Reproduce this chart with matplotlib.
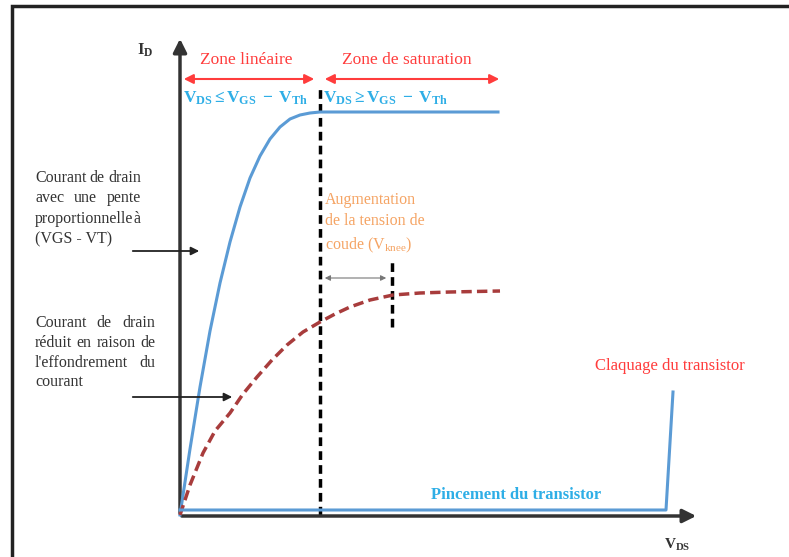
import matplotlib
matplotlib.use("Agg")
import matplotlib.pyplot as plt
from matplotlib.patches import Rectangle

plt.rcParams['font.family'] = ['Liberation Serif', 'DejaVu Serif']
plt.rcParams['mathtext.fontset'] = 'custom'
plt.rcParams['mathtext.rm'] = 'Liberation Serif'
plt.rcParams['mathtext.it'] = 'Liberation Serif:italic'
plt.rcParams['mathtext.bf'] = 'Liberation Serif:bold'

# curves (VDS, ID) in arbitrary units
vds_lin = [0, 10, 20, 30, 40, 50, 60, 70, 80, 90, 100, 110, 120, 130, 140, 160, 318]
id_lin = [0, 66, 128, 184, 232, 273, 308, 337, 359, 376, 388, 396, 400, 402, 403, 403, 403]

vds_red = [0, 10, 23, 35, 50, 63, 77, 92, 107, 123, 140, 155, 170, 190, 213, 240, 270, 320]
id_red = [0, 30, 62, 84, 102, 121, 138, 155, 170, 183, 193, 201, 208, 215, 220, 222, 223, 224]

vds_pinch = [0, 486, 493]
id_pinch = [5, 5, 123]

v_sat = 140      # limit linear / saturation
v_knee = 212     # knee voltage of collapsed curve

note1 = ['Courant de drain', 'avec une pente', 'proportionnelle à', '(VGS - VT)']
note2 = ['Courant de drain', 'réduit en raison de', "l'effondrement du", 'courant']

blue = '#5b9bd5'
light_blue = '#2eaee6'
red = '#ff3c3c'
brown = '#a83c3c'
orange = '#f5a464'
dark = '#333333'

fig = plt.figure(figsize=(7.89, 5.57), dpi=100)
ax = fig.add_axes([0, 0, 1, 1])
ax.set_xlim(-180, 609)
ax.set_ylim(-42, 515)
ax.axis('off')
renderer = fig.canvas.get_renderer()


def justified(lines, x0, y0, width, step, **kw):
    # justified paragraph, last line left aligned
    for i, line in enumerate(lines):
        y = y0 - i * step
        words = line.split(' ')
        if i == len(lines) - 1 or len(words) == 1:
            ax.text(x0, y, line, ha='left', va='center', **kw)
            continue
        txts = [ax.text(0, y, w, ha='left', va='center', **kw) for w in words]
        widths = [t.get_window_extent(renderer).width for t in txts]
        gap = (width - sum(widths)) / (len(words) - 1)
        x = x0
        for t, w in zip(txts, widths):
            t.set_x(x)
            x += w + gap


# outer frame
ax.add_patch(Rectangle((-168, -120), 900, 629, fill=False, lw=2.5, ec='#222222'))

# axes with arrows
ax.annotate('', xy=(0, 479), xytext=(0, -1),
            arrowprops=dict(arrowstyle='-|>', lw=2.5, color=dark, mutation_scale=20))
ax.annotate('', xy=(519, -1), xytext=(-1, -1),
            arrowprops=dict(arrowstyle='-|>', lw=2.5, color=dark, mutation_scale=20))
ax.text(-35, 465, r'$\mathbf{I_D}$', fontsize=12, color=dark, ha='center', va='center')
ax.text(497, -30, r'$\mathbf{V_{DS}}$', fontsize=11, color=dark, ha='center', va='center')

# curves
ax.plot(vds_lin, id_lin, color=blue, lw=2.2, zorder=3)
ax.plot(vds_red, id_red, color=brown, lw=2.5, ls=(0, (3, 1.5)), zorder=3)
ax.plot(vds_pinch, id_pinch, color=blue, lw=2.2, zorder=3)

# dashed limits
ax.plot([v_sat, v_sat], [0, 430], color='black', lw=2.5, ls=(0, (2.5, 1.5)), zorder=2)
ax.plot([v_knee, v_knee], [188, 256], color='black', lw=2.5, ls=(0, (2.5, 1.5)), zorder=2)
ax.annotate('', xy=(v_sat + 2, 237), xytext=(v_knee - 3, 237),
            arrowprops=dict(arrowstyle='<|-|>', lw=0.8, color='#777777', mutation_scale=8))

# zones
ax.annotate('', xy=(1, 436), xytext=(v_sat - 3, 436),
            arrowprops=dict(arrowstyle='<|-|>', lw=1.5, color=red, mutation_scale=14))
ax.annotate('', xy=(v_sat + 2, 436), xytext=(322, 436),
            arrowprops=dict(arrowstyle='<|-|>', lw=1.5, color=red, mutation_scale=14))
ax.text(66, 455, 'Zone linéaire', fontsize=12.5, color=red, ha='center', va='center')
ax.text(227, 455, 'Zone de saturation', fontsize=12.5, color=red, ha='center', va='center')
ax.text(3, 417, r'$\mathbf{V_{DS} \leq V_{GS}\ -\ V_{Th}}$', fontsize=12.5,
        color=light_blue, ha='left', va='center')
ax.text(143, 417, r'$\mathbf{V_{DS} \geq V_{GS}\ -\ V_{Th}}$', fontsize=12.5,
        color=light_blue, ha='left', va='center')

# annotations
ax.text(145, 323, 'Augmentation\nde la tension de\ncoude ($\\mathrm{V_{knee}}$)', fontsize=11.5,
        color=orange, ha='left', va='top', linespacing=1.45)
justified(note1, -145, 337, 106, 20.5, fontsize=11.5, color=dark)
justified(note2, -145, 192, 120, 19.8, fontsize=11.5, color=dark)
ax.annotate('', xy=(22, 264), xytext=(-50, 264),
            arrowprops=dict(arrowstyle='-|>', lw=1.3, color='#222222', mutation_scale=12))
ax.annotate('', xy=(55, 118), xytext=(-50, 118),
            arrowprops=dict(arrowstyle='-|>', lw=1.3, color='#222222', mutation_scale=12))

ax.text(336, 20, 'Pincement du transistor', fontsize=12, fontweight='bold',
        color=light_blue, ha='center', va='center')
ax.text(490, 149, 'Claquage du transistor', fontsize=12, color=red, ha='center', va='center')

fig.savefig('out.png', dpi=100)
